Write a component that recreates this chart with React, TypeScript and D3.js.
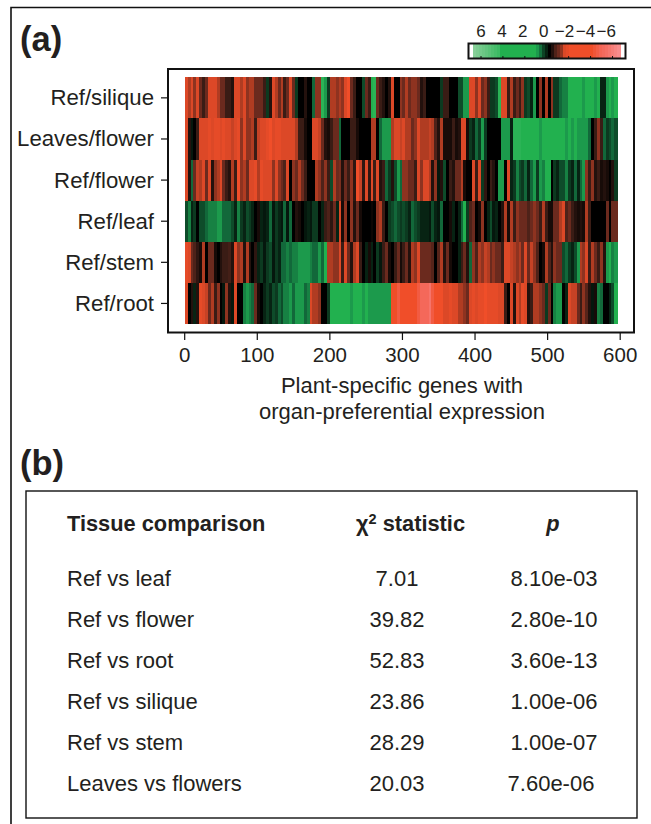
import React from "react";
import * as d3 from "d3";

const rowLabels = ["Ref/silique", "Leaves/flower", "Ref/flower", "Ref/leaf", "Ref/stem", "Ref/root"];
const binGenes = 4;

const refSilique = [
  -3,-2,-3,-1.5,-3,-1,-0.5,-1,-3,-3,-3,-2,-1,-1,-0.5,-0.5,-0.3,-3,-3,-2,-3,-1.5,-2,-2,-1,-1,-1,-0.5,0.5,-0.3,-3,-2,-1,-2,-0.5,-1,-3,-1,
  0.5,0,0,-0.3,0,0,1,-1.5,-1.5,3,2,0.5,-2,-2,-1.5,-2,-1.5,-3,-4,-1,-0.5,0,0,0.7,-1,-0.5,2.5,3,-1,-0.5,-0.3,0,-0.3,-3,0,0,-1.5,-1,-2,-1,
  -1.5,-1.5,-1,-0.3,-0.5,0,0,0,0,0,0.5,-0.5,-0.5,0,0,0,0.7,0.7,2,2,-3,-3,-1.5,-3,-1,-1.5,-0.5,0.5,0.5,0.7,3,-3,-3,-0.5,-2,-0.5,-1,-0.5,
  -1.5,0.5,0.7,0.3,2,0,-1.5,0,-2,0,-1.5,0.5,0.5,1,1.5,1.5,2.5,2.5,2.5,2.5,2.5,2,2.5,2.5,2.5,2,2.5,0.3,0.3,2,2.5,2,2.5,
];
const leavesFlower = [
  -3,-0.3,0.2,0,-0.5,-3,-3,-3,-3.5,-3,-3.5,-3.5,-3,-3.5,-3,-3,-2.5,-3,-3.5,-1.5,-3,-1.5,-1.5,-2,-0.5,-2.5,-3,-3,-3.5,-4,-3,-3.5,-3.5,-3,-3,-3,-3,-3,
  -2,-0.5,-0.5,-0.2,0,0,-3,-3,-2.5,-1,-0.3,-0.2,-0.5,-1,-1,1,0,0,0,-0.5,-0.5,-0.2,0,0,0,0,-2,-2,0,1,2,2,2,-2,-3,-3,-2.5,-3,-2,-2,
  -1,-1.5,-3,-2,-2,-2,-2.5,-2,-0.7,-0.3,-2,-0.2,-0.2,-0.2,-0.5,-0.2,-0.3,-3,-3,-0.2,0.5,0.3,1,0.5,2,0.5,0,0,0,0,0,2,2,2,0.3,3,3,3,
  2.5,2.5,2.5,2.5,2.5,2.5,2,2.5,2.5,2.5,2.5,2.5,2.5,2.5,2.5,2,2.5,2,2.5,2,2,2,2,1,0,-0.5,-1.5,-0.5,1,0.5,0.7,1,0.7,
];
const refFlower = [
  -3,-0.3,1,-1,-2.5,-2,-3,-1,-3,-0.3,-1.5,-2,-3,-1,-0.5,-0.3,-2,-0.5,-4,-1.5,-2,-1,-3,-3,-3.5,-2,-3.5,-3,-3,-3,-1.5,-3,-1.5,-1,-0.7,-3,0,-1.5,
  -1,-2,-1,-0.5,0,0,0,-2,-1.5,-0.7,-1.5,-0.5,0.7,-2,-1,-1.2,-0.3,-1,-0.5,-1.5,-0.4,-4,-2.5,-0.4,-3,-0.4,-3,-0.5,-3,-0.3,-0.5,1,0.5,-0.3,0.7,2,1,-1.5,-1.5,-1,
  -1,-0.5,-3,-1.5,-3,-3,-2,-0.3,-1.5,0.2,-0.3,0.7,0,-0.5,-0.3,-1,-1,-2,-0.2,0,0,-3,-0.5,-3,0.5,-0.4,0,-0.5,-0.3,0,2,2,0,-3,0.3,0.5,1.5,0.7,
  0.5,1,0.3,1,2,0.5,2,1.5,2.5,2.5,0,0.5,0.3,0.7,0.7,1.5,0.5,0.3,1,0.3,1,2,-1.5,-0.5,-1.5,-0.3,-0.5,-0.2,-0.3,-0.2,0,-0.3,0.5,
];
const refLeaf = [
  0.7,1.5,0.3,0.5,0,0.7,0.7,1,1.5,1.5,1.5,2,2,1,1,1,0.7,0.3,1.5,0.5,0.3,0.7,0.5,0.3,0,-0.2,0.3,0.2,0.3,1,0.2,0.5,0.3,0.2,1,0.2,1,0,
  -0.3,-0.2,0,0.2,0.3,0.2,0.5,0.5,0,0.3,-0.5,-0.7,-0.4,-1,0.3,-3,-0.2,-1.5,0,-1.5,-0.3,-1,-0.2,0,0,0,-0.1,0,-1.5,-2,-0.5,0,0.5,0.7,1,0.7,0.5,0.7,0.5,0.3,
  1,0.7,0.5,0.3,0.3,0.3,0.2,0.7,0.3,0.2,1,0,0,-0.2,0.3,0,0.3,1,2.5,0.5,-0.7,-1,0,-0.2,-1.5,0,0.3,0.7,0.2,0.3,0,-0.3,-2,-0.2,-2,-0.5,-1.5,-1,
  -1,-1,-0.7,-1,-1.5,-1,-0.5,-2,-0.5,-0.2,-0.2,-1,-1,-2,-3,-0.7,-1,-0.5,-0.3,-0.2,-0.3,-0.2,-2,-0.5,0,0,0,0,0,-1,0,-1,-1,
];
const refStem = [
  -3.5,-3,-1,-0.7,-0.4,-0.2,-2,0,-1,-1,-0.2,0,-0.3,-0.5,-0.5,-0.6,-0.3,-3,-1.5,-2,-0.3,-2,-0.3,0,-0.4,0.3,0.5,0.2,0.5,0.7,0.2,0.5,0.3,1,1,1.5,1,1.5,
  1.5,2,2,2,2,1.5,1,1,2,1,2.5,-2,-2,-1.5,-1.5,-3,-0.5,-3,-1,-0.3,-2,-3,-0.5,0,0.3,-0.2,0.3,0,0.5,0.2,-0.5,-1,-0.2,0,-0.5,-1,-0.2,-0.5,-1,-0.3,
  -2,-1.5,-3,-1,-1,-1,-1,-0.8,0,-0.8,-2,-0.3,-1,-0.2,0,0,0.3,-0.5,-1,-0.3,1,-1.5,-0.7,-2,-1.5,-2.5,-2,-1,-1.5,-1,-1,-0.5,-3,-3,-2.5,-2,-1.5,-2,
  -1,-3,-1,-2.5,-1.5,-0.7,0,-0.2,-2,-0.7,-0.3,-1.5,-1,-1,0.7,1,0.5,0.3,0.7,2,-2,-1.5,-3,-0.5,-2,-1,-0.5,-1.5,-0.3,2,2.5,1.5,2,
];
const refRoot = [
  -3,0,-0.3,0.3,-0.3,-3.5,-3,-2.5,-1,-2,-0.5,-1.5,0,0.2,-1.5,-0.3,0.2,-3,0,0,1.5,2,1.5,1,-1,-0.2,0,0.3,0.5,0.3,0.7,0.5,1,0.7,1.5,1.5,2,1,
  2,2,2,1,1.5,-3,-2,-2,-1.5,0,0,0.5,2.5,2.5,2.5,2.5,2.5,2.5,2.5,2,2.5,2.5,2.5,2,2.5,2,2,2,2,2,2,2,2,-4,-4,-4.5,-4,-4,-4,-4,
  -4,-4,-4.5,-5,-5,-5,-5.5,-4.5,-4,-4,-4,-3,-3,-3.5,-3,-3,-2,-2,-1.5,-1,-3,-3.5,-3,-3.5,-3.5,-4,-3.5,-3.5,-3.5,-3.5,-3,-3,-0.5,0,-3,-0.3,-3,-2,
  -3.5,-3,-0.3,-0.5,-2,-2,-1.5,-1,0.5,-1,0,1.5,2,2,0,0.3,-3,-2.5,-2.5,-1,-0.5,-1.5,-0.8,-0.3,0.2,-0.2,1.5,1,0,0,0.3,0.7,2.5,
];
const rows = [refSilique, leavesFlower, refFlower, refLeaf, refStem, refRoot];

const xTicks = [0, 100, 200, 300, 400, 500, 600];
const legendTicks = [6, 4, 2, 0, -2, -4, -6];
const legendTickLabels = ["6", "4", "2", "0", "\u22122", "\u22124", "\u22126"];
const legendSwatches = [
  6.5,6.2,5.9,5.6,5.3,5,4.6,4.3,4,
  2.5,2.5,2.5,2.5,2.5,2.5,2.5,2.5,2.5,2.5,2.5,2.5,
  2,1.2,0.6,0.3,0,-0.3,-0.7,-1,-1.6,
  -3,-3.5,-4,-4,-4,-4,-4,-4,-4,-4,
  -4.3,-4.6,-4.9,-5.1,-5.3,-5.6,-5.9,-6.2,-6.5,
];

const tissues = ["Ref vs leaf", "Ref vs flower", "Ref vs root", "Ref vs silique", "Ref vs stem", "Leaves vs flowers"];
const chiValues = ["7.01", "39.82", "52.83", "23.86", "28.29", "20.03"];
const pValues = ["8.10e-03", "2.80e-10", "3.60e-13", "1.00e-06", "1.00e-07", "7.60e-06"];

const FONT = "'Liberation Sans', Arial, sans-serif";
const INK = "#231f20";

const color = d3
  .scaleLinear<string>()
  .domain([-6.5, -5, -4, -3, -2, -1, -0.5, 0, 0.5, 1, 2, 2.5, 4, 6.5])
  .range(["#f98d8d", "#f4685a", "#f04e29", "#dc4827", "#b03c22", "#6b2a1e", "#3a1c15", "#000000", "#0c3a20", "#12683a", "#1c9a4c", "#22b14f", "#3dba64", "#86cf97"])
  .clamp(true);

export default function App() {
  const x = d3.scaleLinear().domain([0, 600]).range([184.7, 620.2]);
  const y = d3.scaleBand<string>().domain(rowLabels).range([77.3, 324]);
  const legendX = d3.scaleLinear().domain([6, -6]).range([481, 612.5]);
  const legendLabelX = d3.scaleLinear().domain([6, -6]).range([481, 606.3]);
  const swatch = d3.scaleBand<number>().domain(d3.range(legendSwatches.length)).range([473, 620]);
  const tableY = d3.scalePoint<string>().domain(tissues).range([578, 783]);

  return (
    <svg
      width={651}
      height={824}
      style={{ position: "absolute", left: 0, top: 0, display: "block", background: "#fff" }}
      fontFamily={FONT}
      fill={INK}
    >
      <path d="M651,7.5H11V824" fill="none" stroke="#111" strokeWidth={1.6} />
      <text x={20} y={51} fontSize={34.5} fontWeight="bold">(a)</text>
      <text x={20} y={475} fontSize={34.5} fontWeight="bold">(b)</text>

      {/* heat map */}
      {rows.map((vals, r) => (
        <g key={rowLabels[r]} shapeRendering="crispEdges">
          {vals.map((v, i) => (
            <rect
              key={i}
              x={x(i * binGenes)}
              y={y(rowLabels[r])}
              width={x((i + 1) * binGenes) - x(i * binGenes) + 0.4}
              height={y.bandwidth()}
              fill={color(v)}
            />
          ))}
        </g>
      ))}
      <rect x={168} y={69} width={466} height={263.5} fill="none" stroke="#111" strokeWidth={2} />
      {rowLabels.map((l) => {
        const cy = y(l)! + y.bandwidth() / 2;
        return (
          <g key={l}>
            <line x1={161} x2={168} y1={cy} y2={cy} stroke="#111" strokeWidth={1.2} />
            <text x={154} y={cy + 7.5} fontSize={22.2} textAnchor="end">{l}</text>
          </g>
        );
      })}
      {xTicks.map((t) => (
        <g key={t}>
          <line x1={x(t)} x2={x(t)} y1={332.5} y2={340} stroke="#111" strokeWidth={1.2} />
          <text x={x(t)} y={362} fontSize={20.5} textAnchor="middle">{t}</text>
        </g>
      ))}
      <text x={402} y={393} fontSize={22} textAnchor="middle">Plant-specific genes with</text>
      <text x={402} y={419} fontSize={22} textAnchor="middle">organ-preferential expression</text>

      {/* legend */}
      <g shapeRendering="crispEdges">
        {legendSwatches.map((v, i) => (
          <rect key={i} x={swatch(i)} y={44} width={swatch.bandwidth() + 0.5} height={14} fill={color(v)} />
        ))}
      </g>
      <rect x={468.5} y={43.5} width={157} height={15} fill="none" stroke="#111" strokeWidth={2} />
      {legendTicks.map((t, i) => (
        <g key={t}>
          <line x1={legendX(t)} x2={legendX(t)} y1={56} y2={58} stroke="#111" strokeWidth={1} />
          <text x={legendLabelX(t)} y={37} fontSize={17} textAnchor="middle">{legendTickLabels[i]}</text>
        </g>
      ))}

      {/* table */}
      <rect x={26} y={491} width={611} height={327} fill="none" stroke="#111" strokeWidth={1.4} />
      <text x={67} y={531} fontSize={21.8} fontWeight="bold">Tissue comparison</text>
      <text x={410.5} y={531} fontSize={21.8} fontWeight="bold" textAnchor="middle">
        {"\u03c7"}
        <tspan fontSize={14.5} dy={-7}>2</tspan>
        <tspan dy={7}> statistic</tspan>
      </text>
      <text x={553} y={531} fontSize={21.8} fontWeight="bold" fontStyle="italic" textAnchor="middle">p</text>
      {tissues.map((t, i) => {
        const by = tableY(t)! + 7.5;
        return (
          <g key={t} fontSize={22}>
            <text x={67} y={by}>{t}</text>
            <text x={397} y={by} textAnchor="middle">{chiValues[i]}</text>
            <text x={i === 5 ? 551 : 554} y={by} textAnchor="middle">{pValues[i]}</text>
          </g>
        );
      })}
    </svg>
  );
}
